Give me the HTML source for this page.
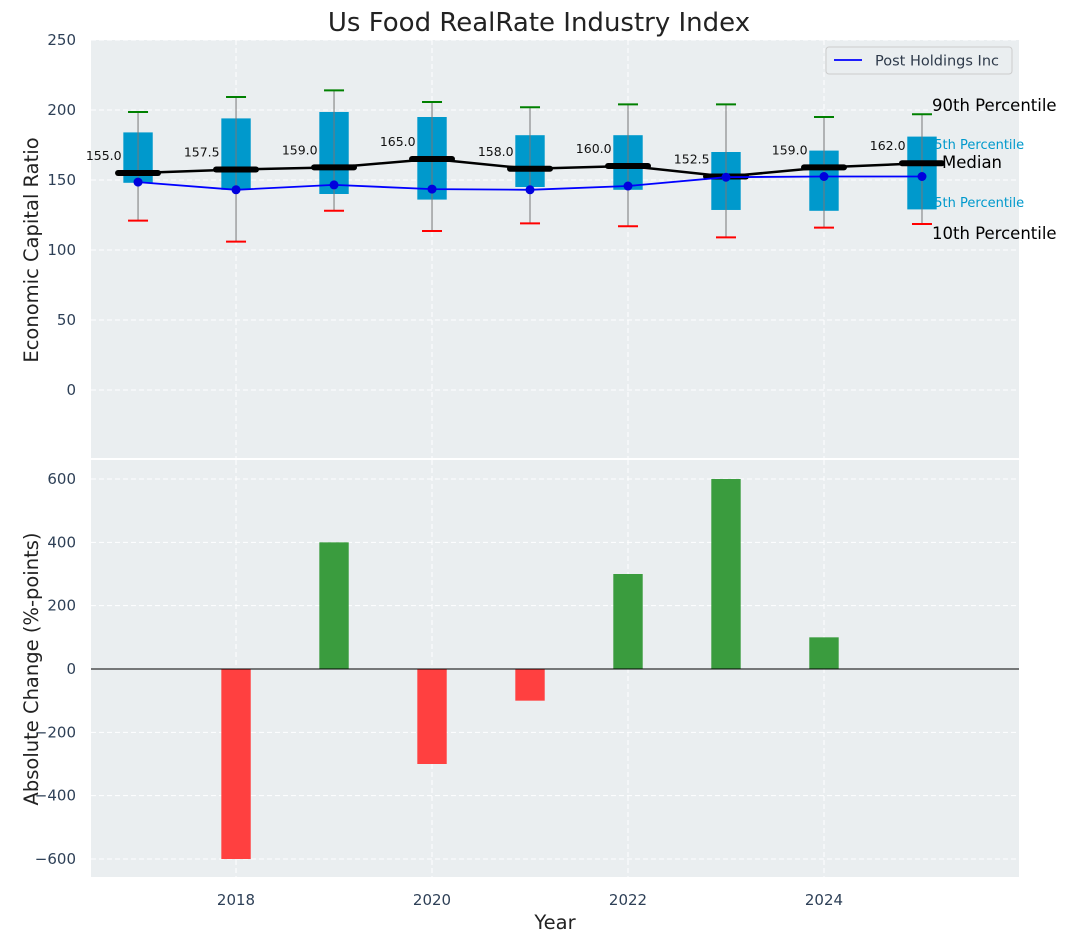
<!DOCTYPE html>
<html><head><meta charset="utf-8"><style>
body{margin:0;background:#fff;}
svg{display:block;font-family:"DejaVu Sans","Liberation Sans",sans-serif;}
</style></head><body>
<svg id="c" width="1067" height="942" viewBox="0 0 1067 942"></svg>
<script>
const years=[2017,2018,2019,2020,2021,2022,2023,2024,2025];
const p90=[198.6,209.3,214,205.7,202,204,204,195,197];
const p75=[184,194,198.6,195,182,182,170,171,181];
const medians=[155.0,157.5,159.0,165.0,158.0,160.0,152.5,159.0,162.0];
const p25=[148,143,140,136,145,143,128.6,128,129];
const p10=[121,106,128,113.6,119,117,109,116,118.6];
const company=[148.5,143,146.5,143.5,143,145.7,152,152.5,152.5];
const changes=[0,-600,400,-300,-100,300,600,100,0];
const topTicks=[0,50,100,150,200,250];
const botTicks=[-600,-400,-200,0,200,400,600];
const xTicks=[2018,2020,2022,2024];

const NS="http://www.w3.org/2000/svg";
const svg=document.getElementById('c');
function el(t,a,txt){const e=document.createElementNS(NS,t);for(const k in a)e.setAttribute(k,a[k]);if(txt!==undefined)e.textContent=txt;svg.appendChild(e);return e;}
const L=91,R=1019,T1=40,B1=458,T2=460,B2=877;
const X=v=>L+(v-2016.52)/(25.99-16.52)*(R-L);
const Y1=v=>390-v*1.4;
const Y2=v=>669-v*(190/600);

let e;
e=el('rect',{x:L,y:T1,width:R-L,height:B1-T1,fill:'#eaeef0'});

e=el('rect',{x:L,y:T2,width:R-L,height:B2-T2,fill:'#eaeef0'});


xTicks.forEach(t=>{
  el('line',{x1:X(t),x2:X(t),y1:T1,y2:B1,stroke:'#fff','stroke-dasharray':'5,3','stroke-width':1});
  el('line',{x1:X(t),x2:X(t),y1:T2,y2:B2,stroke:'#fff','stroke-dasharray':'5,3','stroke-width':1});
  e=el('text',{x:X(t),y:905,'text-anchor':'middle','font-size':15,fill:'#2e4057'},t);
  
});
topTicks.forEach(t=>{
  el('line',{x1:L,x2:R,y1:Y1(t),y2:Y1(t),stroke:'#fff','stroke-dasharray':'5,3','stroke-width':1});
  e=el('text',{x:76,y:Y1(t)+5,'text-anchor':'end','font-size':15,fill:'#2e4057'},t);
  
});
botTicks.forEach(t=>{
  el('line',{x1:L,x2:R,y1:Y2(t),y2:Y2(t),stroke:'#fff','stroke-dasharray':'5,3','stroke-width':1});
  e=el('text',{x:76,y:Y2(t)+5,'text-anchor':'end','font-size':15,fill:'#2e4057'},t<0?'\u2212'+(-t):t);
  
});

e=el('text',{x:926,y:149,'font-size':13,fill:'#0099cc'},'75th Percentile');

e=el('text',{x:926,y:207,'font-size':13,fill:'#0099cc'},'25th Percentile');


const bw=0.3*(X(2018)-X(2017));
years.forEach((yr,i)=>{
  const cx=X(yr);
  e=el('rect',{x:cx-bw/2,y:Y1(p75[i]),width:bw,height:Y1(p25[i])-Y1(p75[i]),fill:'#0099cc'});
  
  e=el('line',{x1:cx,x2:cx,y1:Y1(p90[i]),y2:Y1(p10[i]),stroke:'#777','stroke-width':1});
  
  e=el('line',{x1:cx-10,x2:cx+10,y1:Y1(p90[i]),y2:Y1(p90[i]),stroke:'green','stroke-width':2});
  
  e=el('line',{x1:cx-10,x2:cx+10,y1:Y1(p10[i]),y2:Y1(p10[i]),stroke:'red','stroke-width':2});
  
});
let d=years.map((yr,i)=>(i?'L':'M')+X(yr)+','+Y1(medians[i])).join(' ');
e=el('path',{d:d,fill:'none',stroke:'#000','stroke-width':2.5});

years.forEach((yr,i)=>{
  const cx=X(yr);
  e=el('line',{x1:cx-20,x2:cx+20,y1:Y1(medians[i]),y2:Y1(medians[i]),stroke:'#000','stroke-width':6,'stroke-linecap':'round'});
  
  e=el('text',{x:cx-0.35*(X(2018)-X(2017)),y:Y1(medians[i])-13,'text-anchor':'middle','font-size':12.5,fill:'#111'},medians[i].toFixed(1));
  
});
d=years.map((yr,i)=>(i?'L':'M')+X(yr)+','+Y1(company[i])).join(' ');
e=el('path',{d:d,fill:'none',stroke:'#0000ff','stroke-width':1.8});

years.forEach((yr,i)=>{
  e=el('circle',{cx:X(yr),cy:Y1(company[i]),r:4.5,fill:'#0000dd'});
  
});
[['90th Percentile',932,111,'p90-label'],['Median',942,168,'median-label'],['10th Percentile',932,239,'p10-label']].forEach(a=>{
  e=el('text',{x:a[1],y:a[2],'font-size':16.5,fill:'#000'},a[0]);
  
});

years.forEach((yr,i)=>{
  const v=changes[i];if(v===0)return;
  const y0=Y2(Math.max(v,0)),y1=Y2(Math.min(v,0));
  e=el('rect',{x:X(yr)-bw/2,y:y0,width:bw,height:y1-y0,fill:v>0?'#3a9c3e':'#ff4040'});
  
});
e=el('line',{x1:L,x2:R,y1:Y2(0),y2:Y2(0),stroke:'#000','stroke-width':1});


e=el('rect',{x:826,y:47,width:186,height:27,rx:3,fill:'#eaeef0',stroke:'#ccc'});

el('line',{x1:834,x2:862,y1:60,y2:60,stroke:'#0000ff','stroke-width':1.8});
e=el('text',{x:875,y:65.5,'font-size':14.5,fill:'#2e3a4a'},'Post Holdings Inc');


e=el('text',{x:539,y:31,'text-anchor':'middle','font-size':26,fill:'#222'},'Us Food RealRate Industry Index');

e=el('text',{x:555,y:929,'text-anchor':'middle','font-size':19.5,fill:'#222'},'Year');

e=el('text',{x:0,y:0,'text-anchor':'middle','font-size':19.5,fill:'#222',transform:'translate(38,250) rotate(-90)'},'Economic Capital Ratio');

e=el('text',{x:0,y:0,'text-anchor':'middle','font-size':19.5,fill:'#222',transform:'translate(38,669) rotate(-90)'},'Absolute Change (%-points)');

</script>
</body></html>
